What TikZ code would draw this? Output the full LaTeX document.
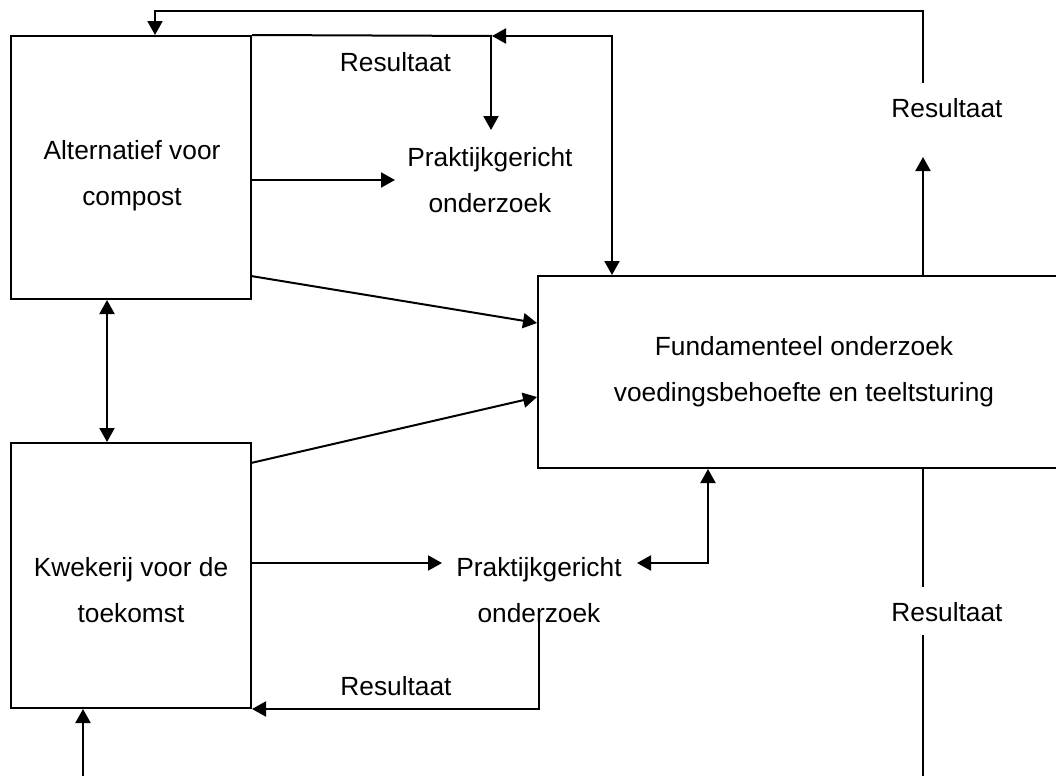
\documentclass[tikz,border=0pt]{standalone}
\usepackage{fontspec}
\setmainfont{Liberation Sans}
\usetikzlibrary{arrows.meta,positioning}

\begin{document}
\begin{tikzpicture}[x=0.5pt,y=-0.5pt, line width=1pt,
  >={Triangle[length=7pt,width=7.5pt]},
  every node/.style={font=\fontsize{13.15}{23}\selectfont, align=center},
  blok/.style={draw, rectangle, inner sep=0pt},
  tekst/.style={inner sep=1pt}]
\useasboundingbox (0,0) rectangle (1056,776);
\clip (0,0) rectangle (1056,776);
% blokken
\node[blok, minimum width=120pt, minimum height=131.5pt] (alt) at (131,167.5) {};
\node[blok, minimum width=120pt, minimum height=132.5pt] (kwek) at (131,575.5) {};
\node[blok, minimum width=266pt, minimum height=96pt] (fund) at (804,372)
  {Fundamenteel onderzoek\\voedingsbehoefte en teeltsturing};
\node[tekst] (altt) at (132,176) {Alternatief voor\\compost};
\node[tekst] (kwekt) at (131,590) {Kwekerij voor de\\toekomst};
\node[tekst] (prak1) at (490,180) {Praktijkgericht\\onderzoek};
\node[tekst] (prak2) at (539,590) {Praktijkgericht\\onderzoek};
\node[tekst] (res1) at (395.5,62) {Resultaat};
\node[tekst] (res2) at (947,108) {Resultaat};
\node[tekst] (res3) at (947,612) {Resultaat};
\node[tekst] (res4) at (396,686) {Resultaat};
\coordinate (r2a) at (923,157);
\coordinate (r2b) at (923,83);
\coordinate (top) at (923,11);
\coordinate (r3a) at (923,587);
\coordinate (r3b) at (923,635);
\coordinate (r3c) at (923,776);
\coordinate (links) at (83,776);
\coordinate (tussen) at (107,370);
\coordinate (tee) at (492,36);
\coordinate (hoek) at (612,36);
\coordinate (p1in) at (395,180);
\coordinate (p1top) at (491,130);
\coordinate (p2in) at (442,563);
\coordinate (p2uit) at (637,563);
\coordinate (p2hoek) at (708,563);
\coordinate (p2neer) at (539,620);
% verbindingen
\draw[->] (r2b) -- (top) -| ([xshift=12pt]alt.north);
\draw[->] (fund.north -| r2a) -- (r2a);
\draw (fund.south -| r3a) -- (r3a);
\draw (r3b) -- (r3c);
\draw[->] (links) -- (kwek.south -| links);
\draw (alt.north east) -- (tee);
\draw[<->] (tee) -- (hoek) -- (fund.north -| hoek);
\draw[->] (tee -| p1top) -- (p1top);
\draw[->] (alt.east |- p1in) -- (p1in);
\draw[<->] (alt.south -| tussen) -- (kwek.north -| tussen);
\draw[->] (251,276) -- (fund.west |- 0,323);
\draw[->] (251,463) -- (fund.west |- 0,397);
\draw[->] (kwek.east |- p2in) -- (p2in);
\draw[<->] (p2uit) -- (p2hoek) -- (fund.south -| p2hoek);
\draw[->] (p2neer) |- (kwek.south east);
\end{tikzpicture}
\end{document}
